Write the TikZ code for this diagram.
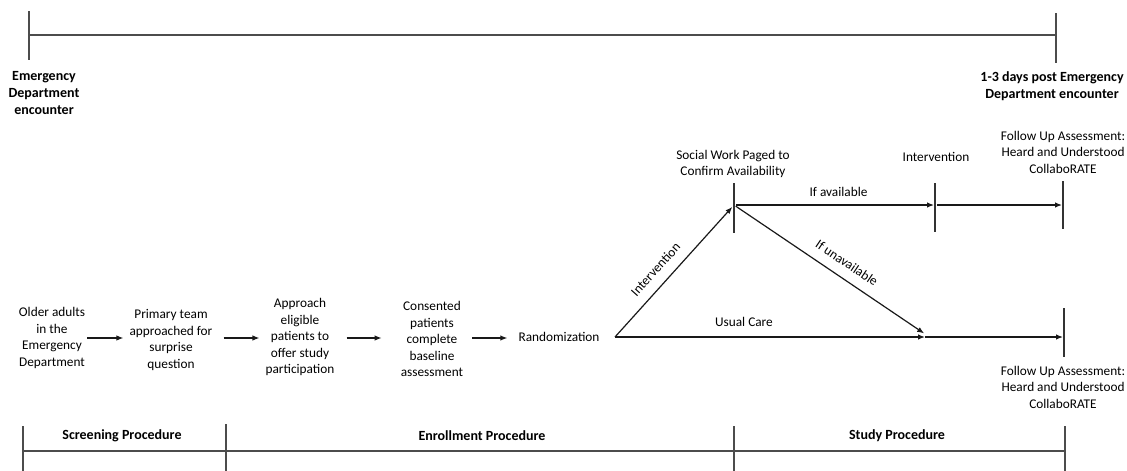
\documentclass[tikz,border=0pt]{standalone}
\usepackage{fontspec}
\setmainfont{Carlito}
\usetikzlibrary{arrows.meta}
\begin{document}
\begin{tikzpicture}[x=1pt,y=-1pt,
  txt/.style={align=center,inner sep=0pt,font=\fontsize{13.3}{16.5}\selectfont,text=black},
  boldtxt/.style={align=center,inner sep=0pt,font=\fontsize{14}{17}\selectfont\bfseries,text=black},
  lab/.style={txt,inner sep=2pt},
  arr/.style={draw=black!90,line width=1.2pt,-{Latex[length=7pt,width=5.5pt]}},
  tick/.style={draw=black!80,line width=1.2pt},
  rule/.style={draw=black!70,line width=1.5pt}
]
\useasboundingbox (0,0) rectangle (1127,471);

% ---------- time line across the top ----------
\coordinate (t0a) at (29,11);  \coordinate (t0b) at (29,60);  \coordinate (t0) at (29,35);
\coordinate (t1a) at (1056,13); \coordinate (t1b) at (1056,63); \coordinate (t1) at (1056,35);
\draw[rule] (t0a) -- (t0b);
\draw[rule] (t0) -- (t1);
\draw[rule] (t1a) -- (t1b);
\node[boldtxt] (edstart) at (44,93) {Emergency\\Department\\encounter};
\node[boldtxt] (edend) at (1052,86) {1-3 days post Emergency\\Department encounter};

% ---------- screening and enrollment steps ----------
\coordinate (row) at (0,338);
\node[txt] (older)    at (52,338)  {Older adults\\in the\\Emergency\\Department};
\node[txt] (primary)  at (171,340) {Primary team\\approached for\\surprise\\question};
\node[txt] (approach) at (300,337) {Approach\\eligible\\patients to\\offer study\\participation};
\node[txt] (consent)  at (432,339) {Consented\\patients\\complete\\baseline\\assessment};
\node[txt] (random)   at (559,337) {Randomization};

\draw[arr,shorten <=2pt,shorten >=6pt]   (older.east |- row)    -- (primary.west |- row);
\draw[arr,shorten <=11pt,shorten >=6pt]  (primary.east |- row)  -- (approach.west |- row);
\draw[arr,shorten <=12pt,shorten >=19pt] (approach.east |- row) -- (consent.west |- row);
\draw[arr,shorten <=9pt,shorten >=11pt]  (consent.east |- row)  -- (random.west |- row);

% ---------- study arms ----------
\coordinate (fork) at (615,337);
\coordinate (sw) at (734,205);  \coordinate (swtop) at (734,183);  \coordinate (swbot) at (734,233);
\coordinate (iv) at (935,205);  \coordinate (ivtop) at (935,183);  \coordinate (ivbot) at (935,232);
\coordinate (fu1) at (1063,205); \coordinate (fu1top) at (1063,181); \coordinate (fu1bot) at (1063,229);
\coordinate (join) at (925,337);
\coordinate (joinup) at (925,334);
\coordinate (fu2) at (1064,337); \coordinate (fu2top) at (1064,308); \coordinate (fu2bot) at (1064,357);

\draw[tick] (swtop) -- (swbot);
\draw[tick] (ivtop) -- (ivbot);
\draw[tick] (fu1top) -- (fu1bot);
\draw[tick] (fu2top) -- (fu2bot);

\draw[arr,shorten >=2.5pt] (fork) -- node[lab,sloped,above=8pt,pos=0.435] {Intervention} (sw);
\draw[arr,shorten <=2pt,shorten >=1pt] (sw) -- node[lab,above=6pt,pos=0.52] {If available} (iv);
\draw[arr,shorten <=2pt,shorten >=1pt] (iv) -- (fu1);
\draw[arr,shorten <=2pt,shorten >=1pt] (sw) -- node[lab,sloped,above=8pt,pos=0.546] {If unavailable} (joinup);
\draw[arr] (fork) -- node[lab,above=8pt,pos=0.416] {Usual Care} (join);
\draw[arr,shorten >=1pt] (join) -- (fu2);

\node[txt] (swlab)  at (733,164)  {Social Work Paged to\\Confirm Availability};
\node[txt] (ivlab)  at (936,157)  {Intervention};
\node[txt] (fu1lab) at (1063,152) {Follow Up Assessment:\\Heard and Understood\\CollaboRATE};
\node[txt] (fu2lab) at (1063,387) {Follow Up Assessment:\\Heard and Understood\\CollaboRATE};

% ---------- procedure bar along the bottom ----------
\coordinate (b0a) at (23,426);   \coordinate (b0b) at (23,471);   \coordinate (b0) at (23,451);
\coordinate (b1a) at (226,424);  \coordinate (b1b) at (226,471);
\coordinate (b2a) at (734,426);  \coordinate (b2b) at (734,471);
\coordinate (b3a) at (1065,426); \coordinate (b3b) at (1065,471); \coordinate (b3) at (1065,451);
\draw[rule] (b0a) -- (b0b);
\draw[rule] (b1a) -- (b1b);
\draw[rule] (b2a) -- (b2b);
\draw[rule] (b3a) -- (b3b);
\draw[rule] (b0) -- (b3);
\node[boldtxt] (screen) at (122,436) {Screening Procedure};
\node[boldtxt] (enrol)  at (482,436) {Enrollment Procedure};
\node[boldtxt] (study)  at (897,436) {Study Procedure};
\end{tikzpicture}
\end{document}
